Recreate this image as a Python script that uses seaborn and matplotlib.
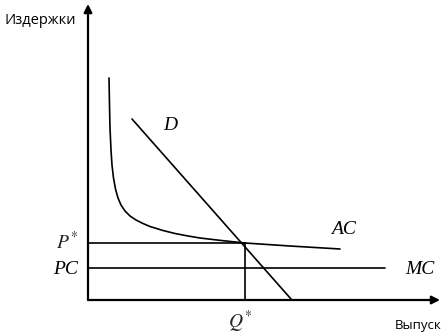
import matplotlib
matplotlib.use("Agg")
import matplotlib.pyplot as plt
import seaborn as sns
import numpy as np

sns.set_theme(style="white")
plt.rcParams['font.family'] = ['DejaVu Sans']

# Curves (output q, cost c)
ac_q = [21, 21.5, 22, 23, 24, 25.5, 27.5, 30, 33, 37, 42, 48, 55, 62, 75, 87, 100, 112, 135, 157, 202, 252]
ac_c = [222, 195, 172, 150, 135, 122, 111, 102, 95, 89, 84, 80, 76.5, 73.5, 69.5, 66.5, 64, 62, 59.3, 57, 54, 51]
d_q = [44, 203]
d_c = [181, 1]
mc_q = [0, 297]
mc_c = [32, 32]
pstar_q = [0, 157]
pstar_c = [57, 57]
qstar_q = [157, 157]
qstar_c = [0, 57]

fig = plt.figure(figsize=(4.48, 3.36), dpi=100)
ax = fig.add_axes([0, 0, 1, 1])
ax.set_xlim(-88, 360)
ax.set_ylim(-36, 300)
ax.axis('off')

lw = 1.2
for xs, ys in [(ac_q, ac_c), (d_q, d_c), (mc_q, mc_c), (pstar_q, pstar_c), (qstar_q, qstar_c)]:
    sns.lineplot(x=xs, y=ys, ax=ax, color='black', lw=lw, sort=False, estimator=None)

# axes arrows
ax.annotate('', xy=(352, 0), xytext=(0, 0),
            arrowprops=dict(arrowstyle='-|>', color='black', lw=1.6, mutation_scale=12,
                            shrinkA=0, shrinkB=0))
ax.annotate('', xy=(0, 296), xytext=(0, 0),
            arrowprops=dict(arrowstyle='-|>', color='black', lw=1.6, mutation_scale=12,
                            shrinkA=0, shrinkB=0))

ax.text(-84, 280, 'Издержки', ha='left', va='center', family='Open Sans', fontsize=10.5, color='black')
ax.text(354, -25, 'Выпуск', ha='right', va='center', family='Open Sans', fontsize=9.5, color='black')

ser = dict(family='Liberation Serif', style='italic', fontsize=14, color='black')
ax.text(-10, 58, r'$P^{*}$', ha='right', va='center', fontsize=14, math_fontfamily='stix')
ax.text(-10, 31, 'PC', ha='right', va='center', **ser)
ax.text(152, -22, r'$Q^{*}$', ha='center', va='center', fontsize=14, math_fontfamily='stix')
ax.text(82, 175, 'D', ha='center', va='center', **ser)
ax.text(255, 70, 'AC', ha='center', va='center', **ser)
ax.text(332, 31, 'MC', ha='center', va='center', **ser)

fig.savefig('out.png', dpi=100)
